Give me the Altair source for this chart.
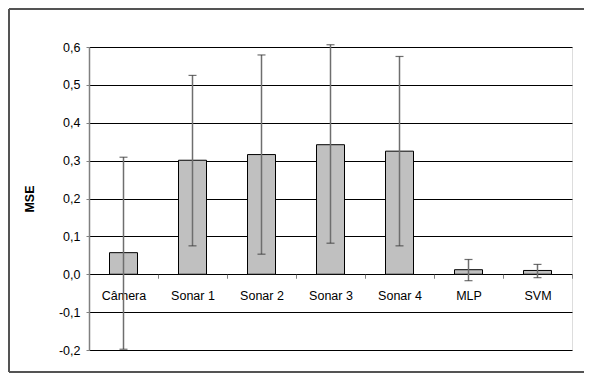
import altair as alt
import pandas as pd

categories = ["Câmera", "Sonar 1", "Sonar 2", "Sonar 3", "Sonar 4", "MLP", "SVM"]
mse = [0.057, 0.301, 0.316, 0.342, 0.325, 0.012, 0.010]
err_low = [-0.198, 0.075, 0.053, 0.082, 0.075, -0.017, -0.009]
err_high = [0.309, 0.525, 0.579, 0.606, 0.575, 0.039, 0.026]
y_ticks = [-0.2, -0.1, 0.0, 0.1, 0.2, 0.3, 0.4, 0.5, 0.6]

df = pd.DataFrame({"cat": categories, "mse": mse, "lo": err_low, "hi": err_high})

W, H = 483, 303
font = "Liberation Sans"

x_axis = alt.Axis(
    title=None, orient="bottom", offset=-(H - H * 0.6 / 0.8),
    labelAngle=0, domain=False, tickBand="extent", tickSize=4,
    tickColor="#808080", labelPadding=11, labelFontSize=12.5,
    labelColor="black", labelFont=font, labelOverlap=False,
)
y_axis = alt.Axis(
    title="MSE", values=y_ticks, labelOverlap=False,
    labelExpr="(datum.value < -0.0001 ? '-' : '') + replace(format(abs(datum.value), '.1f'), '.', ',')",
    grid=True, gridColor="black", gridWidth=1, gridOpacity=1,
    domainColor="#808080", domainWidth=1.5, tickColor="#808080", tickSize=3,
    labelPadding=6, labelFontSize=12.5, labelColor="black", labelFont=font,
    titleFont=font, titleFontSize=12.5, titleFontWeight="bold", titleColor="black",
    titlePadding=22,
)
y_scale = alt.Scale(domain=[-0.2, 0.6], nice=False, zero=False)
x_enc = alt.X("cat:N", sort=categories, scale=alt.Scale(paddingInner=0, paddingOuter=0), axis=x_axis)

bars = alt.Chart(df).mark_bar(size=28, color="#c0c0c0", stroke="black", strokeWidth=1).encode(
    x=x_enc, y=alt.Y("mse:Q", scale=y_scale, axis=y_axis), y2=alt.datum(0)
)
rules = alt.Chart(df).mark_rule(color="#6e6e6e", strokeWidth=1.5).encode(
    x=x_enc, y=alt.Y("lo:Q", scale=y_scale, axis=y_axis), y2="hi:Q"
)
cap_lo = alt.Chart(df).mark_tick(size=8, thickness=1.2, color="#333333", orient="horizontal").encode(
    x=x_enc, y=alt.Y("lo:Q", scale=y_scale, axis=y_axis)
)
cap_hi = alt.Chart(df).mark_tick(size=8, thickness=1.2, color="#333333", orient="horizontal").encode(
    x=x_enc, y=alt.Y("hi:Q", scale=y_scale, axis=y_axis)
)
frame_style = dict(color="#555555", strokeWidth=1.5)
frame_top = alt.Chart(df).mark_rule(**frame_style).encode(
    x=alt.value(-80), x2=alt.value(495), y=alt.value(-38)
)
frame_left = alt.Chart(df).mark_rule(**frame_style).encode(
    x=alt.value(-80), y=alt.value(-38), y2=alt.value(325)
)
frame_bottom = alt.Chart(df).mark_rule(**frame_style).encode(
    x=alt.value(-80), x2=alt.value(495), y=alt.value(325)
)

chart = alt.layer(bars, rules, cap_lo, cap_hi, frame_top, frame_left, frame_bottom).properties(
    width=W, height=H,
    padding={"left": 81, "top": 39, "right": 12, "bottom": 23},
    autosize=alt.AutoSizeParams(type="none"),
).configure_view(stroke=None).configure(background="white")

chart.save("out.html", embed_options={"renderer": "svg", "actions": False})
